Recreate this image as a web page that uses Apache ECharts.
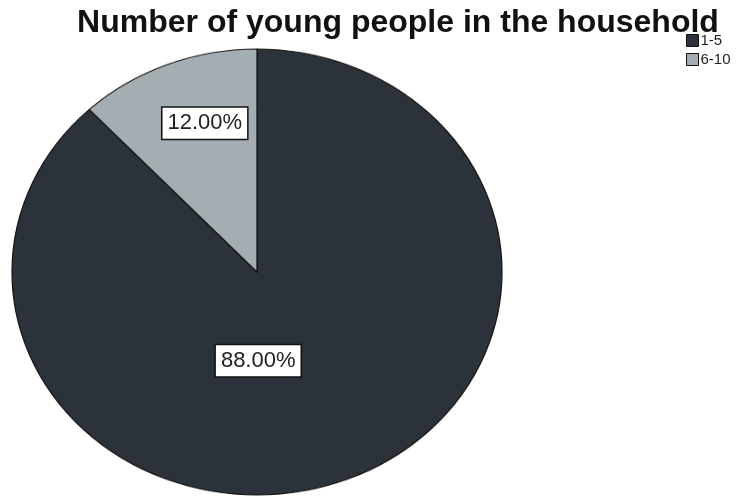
<!DOCTYPE html>
<html>
<head>
<meta charset="utf-8">
<script src="https://cdn.jsdelivr.net/npm/echarts@6/dist/echarts.min.js"></script>
<style>
  html, body { margin: 0; padding: 0; background: #ffffff; }
  #wrap { position: relative; width: 754px; height: 496px; overflow: hidden; }
  #pie { position: absolute; left: 0; top: 0; width: 754px; height: 620px; transform: scaleY(0.91); transform-origin: 257px 272px; }
  #top { position: absolute; left: 0; top: 0; width: 754px; height: 496px; }
</style>
</head>
<body>
<div id="wrap">
  <div id="pie"></div>
  <div id="top"></div>
</div>
<script>
// ---- data ----
var titleText = 'Number of young people in the household';
var categories = ['1-5', '6-10'];
var values = [88, 12];
var labelTexts = ['88.00%', '12.00%'];
var colors = ['#2c3239', '#a4adb2'];

// ---- layout / style ----
var center = [257, 272];
var radius = 245;
var labelOffsets = [[-45, -28], [-6, -32]];

var pieData = categories.map(function (c, i) {
  return { name: c, value: values[i], itemStyle: { color: colors[i] } };
});

var chartA = echarts.init(document.getElementById('pie'), null, { renderer: 'canvas' });
chartA.setOption({
  animation: false,
  series: [{
    type: 'pie',
    center: center,
    radius: radius,
    startAngle: 90,
    clockwise: true,
    silent: true,
    label: { show: false },
    labelLine: { show: false },
    itemStyle: { borderColor: '#111', borderWidth: 1.2 },
    data: pieData
  }]
});

var labelData = categories.map(function (c, i) {
  return {
    name: c,
    value: values[i],
    itemStyle: { color: 'rgba(0,0,0,0)', borderWidth: 0 },
    label: { offset: labelOffsets[i] }
  };
});

var chartB = echarts.init(document.getElementById('top'), null, { renderer: 'canvas' });
chartB.setOption({
  animation: false,
  title: {
    text: titleText,
    left: 393,
    top: 2,
    textAlign: 'center',
    textStyle: { fontFamily: 'Liberation Sans, Arial, sans-serif', fontWeight: 'bold', fontSize: 32, color: '#111' }
  },
  legend: {
    orient: 'vertical',
    left: 681,
    top: 28,
    itemWidth: 12,
    itemHeight: 12,
    itemGap: 4,
    icon: 'rect',
    textStyle: { fontFamily: 'Liberation Sans, Arial, sans-serif', fontSize: 15, color: '#222', padding: [0, 0, 0, -3] },
    data: categories.map(function (c, i) {
      return { name: c, itemStyle: { color: colors[i], borderColor: '#111', borderWidth: 1 } };
    })
  },
  series: [{
    type: 'pie',
    center: center,
    radius: radius,
    startAngle: 90,
    clockwise: true,
    silent: true,
    labelLine: { show: false },
    label: {
      show: true,
      position: 'inside',
      formatter: function (p) { return labelTexts[p.dataIndex]; },
      fontFamily: 'Liberation Sans, Arial, sans-serif',
      fontSize: 22,
      color: '#222',
      backgroundColor: '#ffffff',
      borderColor: '#111',
      borderWidth: 1.5,
      padding: [5, 5, 4, 5]
    },
    data: labelData
  }]
});
</script>
</body>
</html>
